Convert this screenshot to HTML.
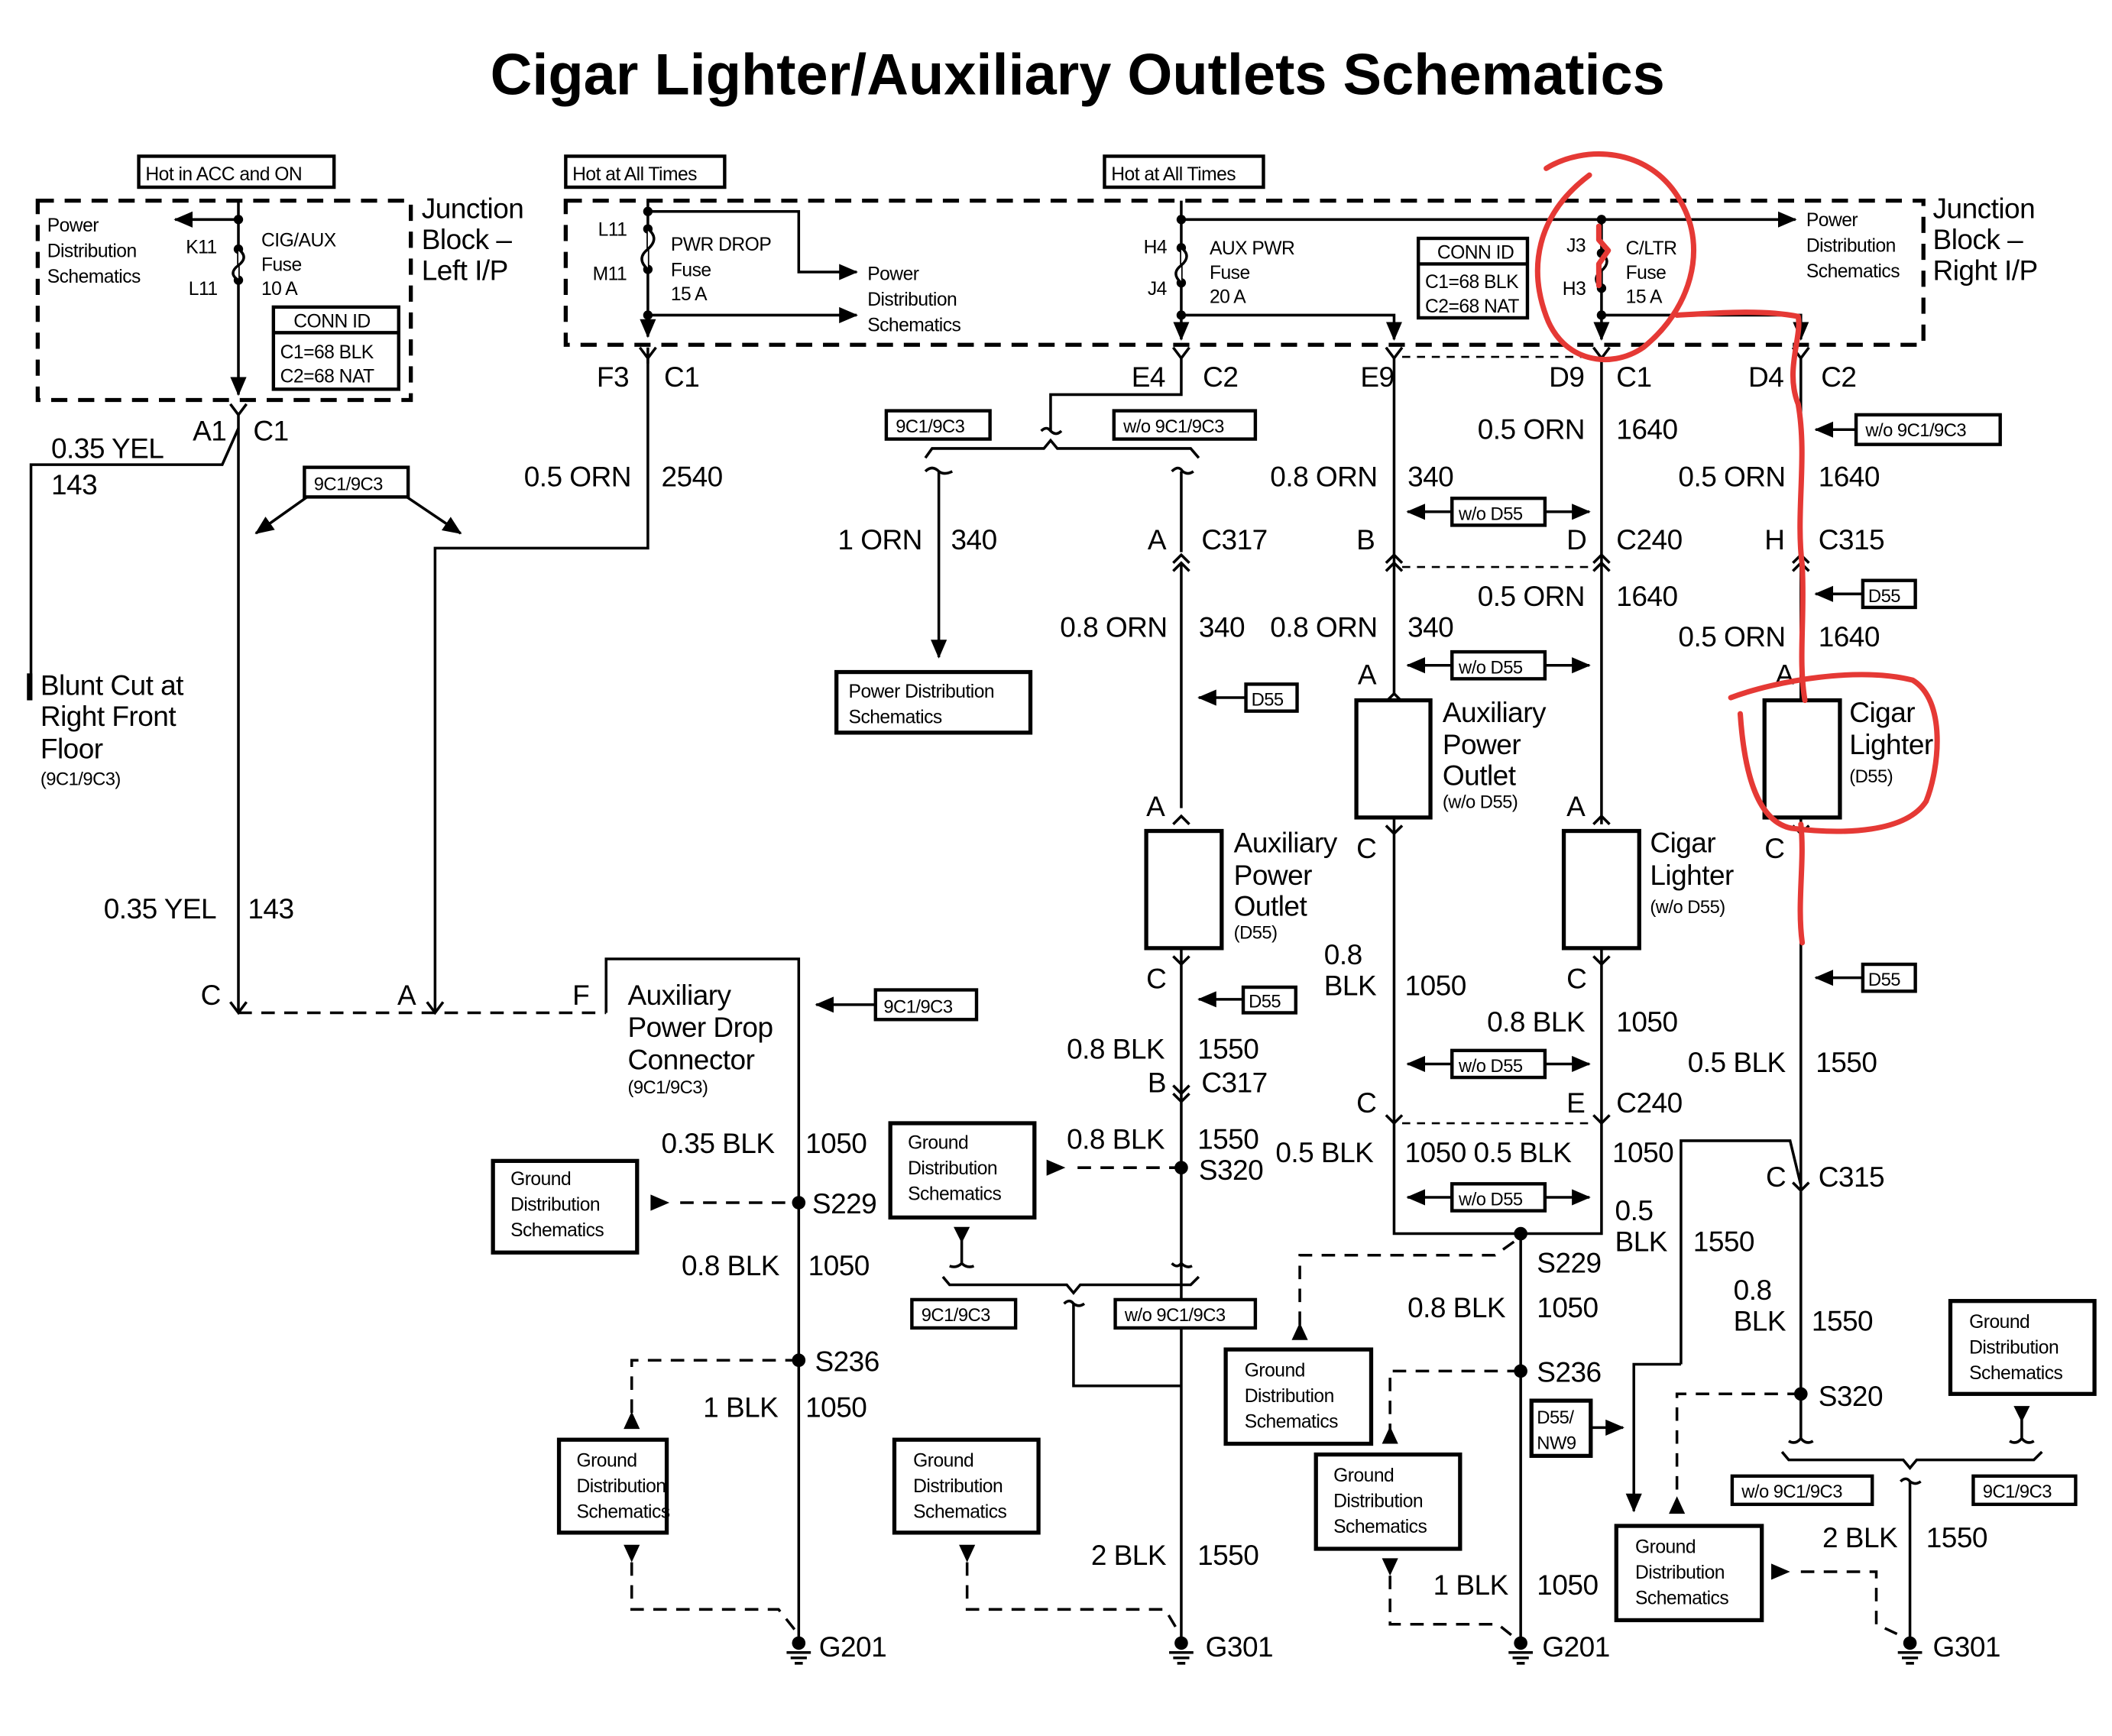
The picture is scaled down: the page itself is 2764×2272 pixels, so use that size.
<!DOCTYPE html>
<html><head><meta charset="utf-8"><style>
html,body{margin:0;padding:0;background:#fff}
svg{display:block}
text{font-family:"Liberation Sans",Arial,sans-serif;fill:#000}
.b{font-size:21px;letter-spacing:-0.3px}.m{font-size:14px;letter-spacing:-0.3px}.s{font-size:13.5px;letter-spacing:-0.3px}
.w{stroke:#000;stroke-width:2;fill:none}
.d{stroke:#000;stroke-width:3;fill:none;stroke-dasharray:12 8}
.dd{stroke:#000;stroke-width:2;fill:none;stroke-dasharray:10 7}
.bx{stroke:#000;stroke-width:3;fill:#fff}
.r{stroke:#e53935;stroke-width:4;fill:none;stroke-linecap:round;stroke-linejoin:round}
</style></head><body>
<svg width="2764" height="2272" viewBox="0 0 1568 1289" preserveAspectRatio="none" xmlns="http://www.w3.org/2000/svg">
<defs>
<marker id="t" markerWidth="14" markerHeight="12" refX="13" refY="6" orient="auto" markerUnits="userSpaceOnUse"><path d="M0,0 L14,6 L0,12z" fill="#000"/></marker>
</defs>
<text x="800" y="70" font-size="43" font-weight="bold" text-anchor="middle">Cigar Lighter/Auxiliary Outlets Schematics</text>

<!-- Left junction block -->
<rect x="103" y="116" width="145" height="23" class="bx" style="stroke-width:2.5"/><text x="108" y="134" class="m">Hot in ACC and ON</text>
<rect x="28" y="149" width="277" height="148" class="d"/>
<text x="313" y="162" class="b">Junction</text><text x="313" y="185" class="b">Block –</text><text x="313" y="208" class="b">Left I/P</text>
<text x="35" y="172" class="m">Power</text><text x="35" y="191" class="m">Distribution</text><text x="35" y="210" class="m">Schematics</text>
<path class="w" d="M177,149 V293" marker-end="url(#t)"/>
<path class="w" d="M177,163 H130" marker-end="url(#t)"/>
<circle cx="177" cy="163" r="3.5"/><circle cx="177" cy="185" r="3.5"/><circle cx="177" cy="208" r="3.5"/>
<path d="M177,185 q8,6 0,12 q-8,6 0,11" stroke="#000" stroke-width="2" fill="#fff"/>
<text x="138" y="188" class="m">K11</text><text x="140" y="219" class="m">L11</text>
<text x="194" y="183" class="m">CIG/AUX</text><text x="194" y="201" class="m">Fuse</text><text x="194" y="219" class="m">10 A</text>
<rect x="203" y="228" width="93" height="61" class="bx" style="stroke-width:2.5"/><line x1="203" y1="247" x2="296" y2="247" stroke="#000" stroke-width="2.5"/>
<text x="218" y="243" class="m">CONN ID</text><text x="208" y="266" class="m">C1=68 BLK</text><text x="208" y="284" class="m">C2=68 NAT</text>
<path class="w" d="M171,300 L177,308 L183,300 M177,308 V752"/>
<text x="143" y="327" class="b">A1</text><text x="188" y="327" class="b">C1</text>
<path class="w" d="M177,318 L165,345 H23 V520"/>
<rect x="20" y="500" width="4" height="20"/>
<text x="38" y="340" class="b">0.35 YEL</text><text x="38" y="367" class="b">143</text>
<text x="30" y="516" class="b">Blunt Cut at</text><text x="30" y="539" class="b">Right Front</text><text x="30" y="563" class="b">Floor</text><text x="30" y="583" class="s">(9C1/9C3)</text>
<rect x="226" y="347" width="77" height="22" class="bx" style="stroke-width:2.5"/><text x="233" y="364" class="s">9C1/9C3</text>
<path class="w" d="M228,369 L190,396" marker-end="url(#t)"/><path class="w" d="M302,369 L342,396" marker-end="url(#t)"/>
<text x="77" y="682" class="b">0.35 YEL</text><text x="184" y="682" class="b">143</text>
<path class="w" d="M481,258 V407 H323 V752"/>
<text x="389" y="361" class="b">0.5 ORN</text><text x="491" y="361" class="b">2540</text>
<path class="dd" d="M177,752 H450"/>
<path class="w" d="M171,744 L177,752 L183,744 M317,744 L323,752 L329,744"/>
<text x="149" y="746" class="b">C</text><text x="295" y="746" class="b">A</text><text x="425" y="746" class="b">F</text>
<path class="w" d="M450,752 V712 H593 V1222"/>
<text x="466" y="746" class="b">Auxiliary</text><text x="466" y="770" class="b">Power Drop</text><text x="466" y="794" class="b">Connector</text><text x="466" y="812" class="s">(9C1/9C3)</text>
<path class="w" d="M650,746 H606" marker-end="url(#t)"/><rect x="650" y="735" width="75" height="22" class="bx" style="stroke-width:2.5"/><text x="656" y="752" class="s">9C1/9C3</text>
<text x="491" y="856" class="b">0.35 BLK</text><text x="598" y="856" class="b">1050</text>
<rect x="366" y="862" width="107" height="68" class="bx"/><text x="379" y="880" class="m">Ground</text><text x="379" y="899" class="m">Distribution</text><text x="379" y="918" class="m">Schematics</text>
<path d="M483,887 L497,893 L483,899z"/><path class="dd" d="M505,893 H593"/>
<circle cx="593" cy="893" r="5"/><text x="603" y="901" class="b">S229</text>
<text x="506" y="947" class="b">0.8 BLK</text><text x="600" y="947" class="b">1050</text>
<circle cx="593" cy="1010" r="5"/><text x="605" y="1018" class="b">S236</text>
<path class="dd" d="M593,1010 H469 V1050"/><path d="M463,1061 L469,1048 L475,1061z"/>
<rect x="415" y="1069" width="80" height="69" class="bx"/><text x="428" y="1089" class="m">Ground</text><text x="428" y="1108" class="m">Distribution</text><text x="428" y="1127" class="m">Schematics</text>
<text x="522" y="1052" class="b">1 BLK</text><text x="598" y="1052" class="b">1050</text>
<path d="M463,1147 L475,1147 L469,1160z"/><path class="dd" d="M469,1160 V1195 H578 L590,1210"/>
<circle cx="593" cy="1220" r="5"/><path class="w" d="M584,1227 H602 M587,1231 H599 M590,1235 H596"/><text x="608" y="1230" class="b">G201</text>
<rect x="664" y="1069" width="107" height="69" class="bx"/><text x="678" y="1089" class="m">Ground</text><text x="678" y="1108" class="m">Distribution</text><text x="678" y="1127" class="m">Schematics</text>
<path d="M712,1147 L724,1147 L718,1160z"/><path class="dd" d="M718,1160 V1195 H865 L874,1210"/>

<!-- middle junction block -->
<rect x="420" y="116" width="118" height="23" class="bx" style="stroke-width:2.5"/><text x="425" y="134" class="m">Hot at All Times</text>
<rect x="820" y="116" width="118" height="23" class="bx" style="stroke-width:2.5"/><text x="825" y="134" class="m">Hot at All Times</text>
<rect x="420" y="149" width="1008" height="107" class="d"/>
<path class="w" d="M481,149 V250" marker-end="url(#t)"/>
<circle cx="481" cy="157" r="3.5"/><circle cx="481" cy="170" r="3.5"/><circle cx="481" cy="200" r="3.5"/><circle cx="481" cy="234" r="3.5"/>
<path d="M481,170 q9,7 0,15 q-9,7 0,15" stroke="#000" stroke-width="2" fill="#fff"/>
<path class="w" d="M481,157 H593 V202 H636" marker-end="url(#t)"/><path class="w" d="M481,234 H636" marker-end="url(#t)"/>
<text x="444" y="175" class="m">L11</text><text x="440" y="208" class="m">M11</text>
<text x="498" y="186" class="m">PWR DROP</text><text x="498" y="205" class="m">Fuse</text><text x="498" y="223" class="m">15 A</text>
<text x="644" y="208" class="m">Power</text><text x="644" y="227" class="m">Distribution</text><text x="644" y="246" class="m">Schematics</text>
<path class="w" d="M475,258 L481,266 L487,258 M481,266 V270"/>
<text x="443" y="287" class="b">F3</text><text x="493" y="287" class="b">C1</text>

<path class="w" d="M877,149 V252" marker-end="url(#t)"/>
<path class="w" d="M877,163 H1333" marker-end="url(#t)"/>
<circle cx="877" cy="163" r="3.5"/><circle cx="877" cy="184" r="3.5"/><circle cx="877" cy="210" r="3.5"/><circle cx="877" cy="234" r="3.5"/>
<path d="M877,184 q8,6 0,13 q-8,6 0,13" stroke="#000" stroke-width="2" fill="#fff"/>
<path class="w" d="M877,234 H1035 V252" marker-end="url(#t)"/>
<text x="849" y="188" class="m">H4</text><text x="852" y="219" class="m">J4</text>
<text x="898" y="189" class="m">AUX PWR</text><text x="898" y="207" class="m">Fuse</text><text x="898" y="225" class="m">20 A</text>
<text x="1341" y="168" class="m">Power</text><text x="1341" y="187" class="m">Distribution</text><text x="1341" y="206" class="m">Schematics</text>
<text x="1435" y="162" class="b">Junction</text><text x="1435" y="185" class="b">Block –</text><text x="1435" y="208" class="b">Right I/P</text>
<rect x="1053" y="177" width="81" height="59" class="bx" style="stroke-width:2.5"/><line x1="1053" y1="196" x2="1134" y2="196" stroke="#000" stroke-width="2.5"/>
<text x="1067" y="192" class="m">CONN ID</text><text x="1058" y="214" class="m">C1=68 BLK</text><text x="1058" y="232" class="m">C2=68 NAT</text>
<path class="w" d="M1189,163 V252" marker-end="url(#t)"/>
<circle cx="1189" cy="163" r="3.5"/><circle cx="1189" cy="188" r="3.5"/><circle cx="1189" cy="214" r="3.5"/><circle cx="1189" cy="234" r="3.5"/>
<path d="M1189,188 q8,6 0,13 q-8,6 0,13" stroke="#000" stroke-width="2" fill="#fff"/>
<path class="w" d="M1189,234 H1337 V252" marker-end="url(#t)"/>
<text x="1163" y="187" class="m">J3</text><text x="1160" y="219" class="m">H3</text>
<text x="1207" y="189" class="m">C/LTR</text><text x="1207" y="207" class="m">Fuse</text><text x="1207" y="225" class="m">15 A</text>

<!-- E4 -->
<path class="w" d="M871,258 L877,266 L883,258 M877,266 V293 H780 V320"/>
<text x="840" y="287" class="b">E4</text><text x="893" y="287" class="b">C2</text>
<path class="w" d="M773,320 q4,-4 7,0 q4,4 8,0 M687,340 L692,333 H775 L780,327 L785,333 H884 L890,340"/>
<rect x="658" y="305" width="77" height="21" class="bx" style="stroke-width:2.5"/><text x="665" y="321" class="s">9C1/9C3</text>
<rect x="827" y="305" width="105" height="21" class="bx" style="stroke-width:2.5"/><text x="834" y="321" class="s">w/o 9C1/9C3</text>
<path class="w" d="M687,350 q5,-5 10,0 q4,3 10,0 M697,350 V488" marker-end="url(#t)"/>
<path class="w" d="M870,350 q5,-5 8,0 q4,3 8,0 M877,350 V410"/>
<text x="622" y="408" class="b">1 ORN</text><text x="706" y="408" class="b">340</text>
<rect x="621" y="499" width="144" height="45" class="bx"/><text x="630" y="518" class="m">Power Distribution</text><text x="630" y="537" class="m">Schematics</text>
<text x="852" y="408" class="b">A</text><text x="892" y="408" class="b">C317</text>
<path class="w" d="M871,418 L877,412 L883,418 M871,424 L877,418 L883,424 M877,418 V600"/>
<text x="787" y="473" class="b">0.8 ORN</text><text x="890" y="473" class="b">340</text>
<rect x="925" y="508" width="38" height="20" class="bx" style="stroke-width:2.5"/><text x="929" y="524" class="s">D55</text><path class="w" d="M925,518 H890" marker-end="url(#t)"/>
<text x="851" y="606" class="b">A</text><path class="w" d="M871,612 L877,606 L883,612"/>
<rect x="851" y="617" width="56" height="87" class="bx"/>
<text x="916" y="633" class="b">Auxiliary</text><text x="916" y="657" class="b">Power</text><text x="916" y="680" class="b">Outlet</text><text x="916" y="697" class="s">(D55)</text>
<text x="851" y="734" class="b">C</text><path class="w" d="M871,710 L877,716 L883,710 M877,705 V1222"/>
<rect x="923" y="733" width="39" height="19" class="bx" style="stroke-width:2.5"/><text x="927" y="748" class="s">D55</text><path class="w" d="M923,742 H890" marker-end="url(#t)"/>
<text x="792" y="786" class="b">0.8 BLK</text><text x="889" y="786" class="b">1550</text>
<text x="852" y="811" class="b">B</text><text x="892" y="811" class="b">C317</text>
<path class="w" d="M871,806 L877,812 L883,806 M871,812 L877,818 L883,812"/>
<text x="792" y="853" class="b">0.8 BLK</text><text x="889" y="853" class="b">1550</text>
<circle cx="877" cy="867" r="5"/><text x="890" y="876" class="b">S320</text>
<path d="M777,861 L791,867 L777,873z"/><path class="dd" d="M800,867 H877"/>
<rect x="661" y="834" width="107" height="70" class="bx"/><text x="674" y="853" class="m">Ground</text><text x="674" y="872" class="m">Distribution</text><text x="674" y="891" class="m">Schematics</text>
<path d="M708,911 L720,911 L714,923z"/><path class="w" d="M714,920 V938 q-4,4 -9,2 M714,938 q4,4 9,2"/>
<path class="w" d="M870,938 q4,4 7,0 V938 q4,4 8,2"/>
<path class="w" d="M700,948 L705,954 H792 L797,960 L802,954 H884 L890,948"/>
<path class="w" d="M790,968 q4,-4 7,0 q4,3 8,0 M797,968 V1029 H877"/>
<rect x="677" y="965" width="77" height="21" class="bx" style="stroke-width:2.5"/><text x="684" y="981" class="s">9C1/9C3</text>
<rect x="828" y="965" width="104" height="21" class="bx" style="stroke-width:2.5"/><text x="835" y="981" class="s">w/o 9C1/9C3</text>
<text x="810" y="1162" class="b">2 BLK</text><text x="889" y="1162" class="b">1550</text>
<circle cx="877" cy="1220" r="5"/><path class="w" d="M868,1227 H886 M871,1231 H883 M874,1235 H880"/><text x="895" y="1230" class="b">G301</text>

<!-- E9 / D9 -->
<path class="w" d="M1029,258 L1035,266 L1041,258 M1035,266 V515"/>
<path class="w" d="M1183,258 L1189,266 L1195,258 M1189,266 V612"/>
<path class="w" d="M1331,258 L1337,266 L1343,258 M1337,266 V520"/>
<path class="dd" d="M1041,265 H1183" style="stroke-width:1.5;stroke-dasharray:6 5"/>
<text x="1010" y="287" class="b">E9</text><text x="1150" y="287" class="b">D9</text><text x="1200" y="287" class="b">C1</text>
<text x="1298" y="287" class="b">D4</text><text x="1352" y="287" class="b">C2</text>
<text x="1097" y="326" class="b">0.5 ORN</text><text x="1200" y="326" class="b">1640</text>
<rect x="1378" y="308" width="107" height="22" class="bx" style="stroke-width:2.5"/><text x="1385" y="324" class="s">w/o 9C1/9C3</text><path class="w" d="M1378,319 H1348" marker-end="url(#t)"/>
<text x="943" y="361" class="b">0.8 ORN</text><text x="1045" y="361" class="b">340</text>
<text x="1246" y="361" class="b">0.5 ORN</text><text x="1350" y="361" class="b">1640</text>
<path class="w" d="M1078,380 H1045" marker-end="url(#t)"/><path class="w" d="M1147,380 H1180" marker-end="url(#t)"/>
<rect x="1078" y="370" width="69" height="20" class="bx" style="stroke-width:2.5"/><text x="1083" y="386" class="s">w/o D55</text>
<text x="1007" y="408" class="b">B</text><text x="1163" y="408" class="b">D</text><text x="1200" y="408" class="b">C240</text>
<text x="1310" y="408" class="b">H</text><text x="1350" y="408" class="b">C315</text>
<path class="w" d="M1029,418 L1035,412 L1041,418 M1029,424 L1035,418 L1041,424 M1183,418 L1189,412 L1195,418 M1183,424 L1189,418 L1195,424 M1331,418 L1337,412 L1343,418 M1331,424 L1337,418 L1343,424"/>
<path class="dd" d="M1041,421 H1183" style="stroke-width:1.5;stroke-dasharray:6 5"/>
<text x="1097" y="450" class="b">0.5 ORN</text><text x="1200" y="450" class="b">1640</text>
<rect x="1383" y="431" width="39" height="20" class="bx" style="stroke-width:2.5"/><text x="1387" y="447" class="s">D55</text><path class="w" d="M1383,441 H1348" marker-end="url(#t)"/>
<text x="943" y="473" class="b">0.8 ORN</text><text x="1045" y="473" class="b">340</text>
<text x="1246" y="480" class="b">0.5 ORN</text><text x="1350" y="480" class="b">1640</text>
<path class="w" d="M1078,494 H1045" marker-end="url(#t)"/><path class="w" d="M1147,494 H1180" marker-end="url(#t)"/>
<rect x="1078" y="484" width="69" height="20" class="bx" style="stroke-width:2.5"/><text x="1083" y="500" class="s">w/o D55</text>
<text x="1008" y="508" class="b">A</text><path class="w" d="M1029,521 L1035,515 L1041,521"/>
<rect x="1007" y="520" width="55" height="87" class="bx"/>
<text x="1071" y="536" class="b">Auxiliary</text><text x="1071" y="560" class="b">Power</text><text x="1071" y="583" class="b">Outlet</text><text x="1071" y="600" class="s">(w/o D55)</text>
<text x="1318" y="508" class="b">A</text>
<rect x="1310" y="520" width="56" height="87" class="bx"/>
<text x="1373" y="536" class="b">Cigar</text><text x="1373" y="560" class="b">Lighter</text><text x="1373" y="581" class="s">(D55)</text>
<text x="1163" y="606" class="b">A</text><path class="w" d="M1183,612 L1189,606 L1195,612"/>
<rect x="1161" y="617" width="56" height="87" class="bx"/>
<text x="1225" y="633" class="b">Cigar</text><text x="1225" y="657" class="b">Lighter</text><text x="1225" y="678" class="s">(w/o D55)</text>
<text x="1007" y="637" class="b">C</text><text x="1310" y="637" class="b">C</text><text x="1163" y="734" class="b">C</text>
<path class="w" d="M1029,613 L1035,619 L1041,613 M1035,608 V916 H1189 V705 M1183,710 L1189,716 L1195,710 M1331,613 L1337,619 L1343,613 M1337,608 V885"/>
<path class="w" d="M1029,828 L1035,834 L1041,828 M1183,828 L1189,834 L1195,828 M1331,878 L1337,884 L1343,878"/>
<path class="dd" d="M1041,834 H1183" style="stroke-width:1.5;stroke-dasharray:6 5"/>
<text x="983" y="716" class="b">0.8</text><text x="983" y="739" class="b">BLK</text><text x="1043" y="739" class="b">1050</text>
<text x="1104" y="766" class="b">0.8 BLK</text><text x="1200" y="766" class="b">1050</text>
<rect x="1383" y="716" width="39" height="20" class="bx" style="stroke-width:2.5"/><text x="1387" y="732" class="s">D55</text><path class="w" d="M1383,726 H1348" marker-end="url(#t)"/>
<text x="1253" y="796" class="b">0.5 BLK</text><text x="1348" y="796" class="b">1550</text>
<path class="w" d="M1078,790 H1045" marker-end="url(#t)"/><path class="w" d="M1147,790 H1180" marker-end="url(#t)"/>
<rect x="1078" y="780" width="69" height="20" class="bx" style="stroke-width:2.5"/><text x="1083" y="796" class="s">w/o D55</text>
<text x="1007" y="826" class="b">C</text><text x="1163" y="826" class="b">E</text><text x="1200" y="826" class="b">C240</text>
<text x="947" y="863" class="b">0.5 BLK</text><text x="1043" y="863" class="b">1050 0.5 BLK</text><text x="1197" y="863" class="b">1050</text>
<path class="w" d="M1078,889 H1045" marker-end="url(#t)"/><path class="w" d="M1147,889 H1180" marker-end="url(#t)"/>
<rect x="1078" y="879" width="69" height="20" class="bx" style="stroke-width:2.5"/><text x="1083" y="895" class="s">w/o D55</text>
<text x="1199" y="906" class="b">0.5</text><text x="1199" y="929" class="b">BLK</text><text x="1257" y="929" class="b">1550</text>
<path class="w" d="M1248,1013 V847 H1329 L1337,880"/>
<path class="w" d="M1248,1013 H1213 V1122" marker-end="url(#t)"/>
<text x="1311" y="881" class="b">C</text><text x="1350" y="881" class="b">C315</text>
<circle cx="1129" cy="916" r="5"/><text x="1141" y="945" class="b">S229</text>
<path class="w" d="M1129,916 V1222"/>
<path class="dd" d="M1124,922 L1110,932 H965 V985"/><path d="M959,995 L965,982 L971,995z"/>
<rect x="910" y="1002" width="108" height="70" class="bx"/><text x="924" y="1022" class="m">Ground</text><text x="924" y="1041" class="m">Distribution</text><text x="924" y="1060" class="m">Schematics</text>
<text x="1045" y="978" class="b">0.8 BLK</text><text x="1141" y="978" class="b">1050</text>
<circle cx="1129" cy="1018" r="5"/><text x="1141" y="1026" class="b">S236</text>
<path class="dd" d="M1129,1018 H1032 V1062"/><path d="M1026,1072 L1032,1059 L1038,1072z"/>
<rect x="1137" y="1040" width="44" height="41" class="bx"/><text x="1141" y="1057" class="s">D55/</text><text x="1141" y="1076" class="s">NW9</text>
<path class="w" d="M1181,1060 H1205" marker-end="url(#t)"/>
<rect x="977" y="1080" width="107" height="70" class="bx"/><text x="990" y="1100" class="m">Ground</text><text x="990" y="1119" class="m">Distribution</text><text x="990" y="1138" class="m">Schematics</text>
<path d="M1026,1157 L1038,1157 L1032,1170z"/><path class="dd" d="M1032,1170 V1206 H1112 L1122,1214"/>
<text x="1064" y="1184" class="b">1 BLK</text><text x="1141" y="1184" class="b">1050</text>
<circle cx="1129" cy="1220" r="5"/><path class="w" d="M1120,1227 H1138 M1123,1231 H1135 M1126,1235 H1132"/><text x="1145" y="1230" class="b">G201</text>
<text x="1287" y="965" class="b">0.8</text><text x="1287" y="988" class="b">BLK</text><text x="1345" y="988" class="b">1550</text>
<path class="w" d="M1337,885 V1068 q-4,5 -9,2 M1337,1068 q4,5 9,2"/>
<circle cx="1337" cy="1035" r="5"/><text x="1350" y="1044" class="b">S320</text>
<path class="dd" d="M1337,1035 H1245 V1112"/><path d="M1239,1124 L1245,1111 L1251,1124z"/>
<rect x="1200" y="1133" width="108" height="70" class="bx"/><text x="1214" y="1153" class="m">Ground</text><text x="1214" y="1172" class="m">Distribution</text><text x="1214" y="1191" class="m">Schematics</text>
<rect x="1448" y="966" width="107" height="69" class="bx"/><text x="1462" y="986" class="m">Ground</text><text x="1462" y="1005" class="m">Distribution</text><text x="1462" y="1024" class="m">Schematics</text>
<path d="M1495,1044 L1507,1044 L1501,1056z"/><path class="w" d="M1501,1054 V1068 q-4,5 -9,2 M1501,1068 q4,5 9,2"/>
<path class="w" d="M1323,1078 L1328,1084 H1413 L1418,1090 L1423,1084 H1510 L1516,1078"/>
<path class="w" d="M1411,1100 q4,-4 7,0 q4,3 8,0 M1418,1100 V1222"/>
<rect x="1286" y="1096" width="104" height="21" class="bx" style="stroke-width:2.5"/><text x="1293" y="1112" class="s">w/o 9C1/9C3</text>
<rect x="1465" y="1096" width="76" height="21" class="bx" style="stroke-width:2.5"/><text x="1472" y="1112" class="s">9C1/9C3</text>
<text x="1353" y="1149" class="b">2 BLK</text><text x="1430" y="1149" class="b">1550</text>
<path d="M1315,1161 L1329,1167 L1315,1173z"/><path class="dd" d="M1337,1167 H1393 V1206 L1410,1214"/>
<circle cx="1418" cy="1220" r="5"/><path class="w" d="M1409,1227 H1427 M1412,1231 H1424 M1415,1235 H1421"/><text x="1435" y="1230" class="b">G301</text>

<!-- red annotations -->
<path class="r" d="M1148,125 C1175,108 1225,108 1248,150 C1268,185 1255,230 1220,258 C1195,275 1160,268 1148,235 C1135,200 1140,160 1180,130"/>
<path class="r" d="M1187,168 L1187,178 L1194,186 L1187,196 L1187,212"/>
<path class="r" d="M1245,234 C1280,232 1310,230 1335,235 C1338,250 1325,275 1335,300 C1342,340 1333,380 1338,420 C1340,460 1335,490 1340,520"/>
<path class="r" d="M1285,518 C1320,505 1380,495 1420,505 C1445,520 1440,570 1430,595 C1415,618 1370,620 1330,615 C1305,610 1295,575 1292,530"/>
<path class="r" d="M1337,612 C1340,640 1334,670 1338,700"/>
</svg>
</body></html>
